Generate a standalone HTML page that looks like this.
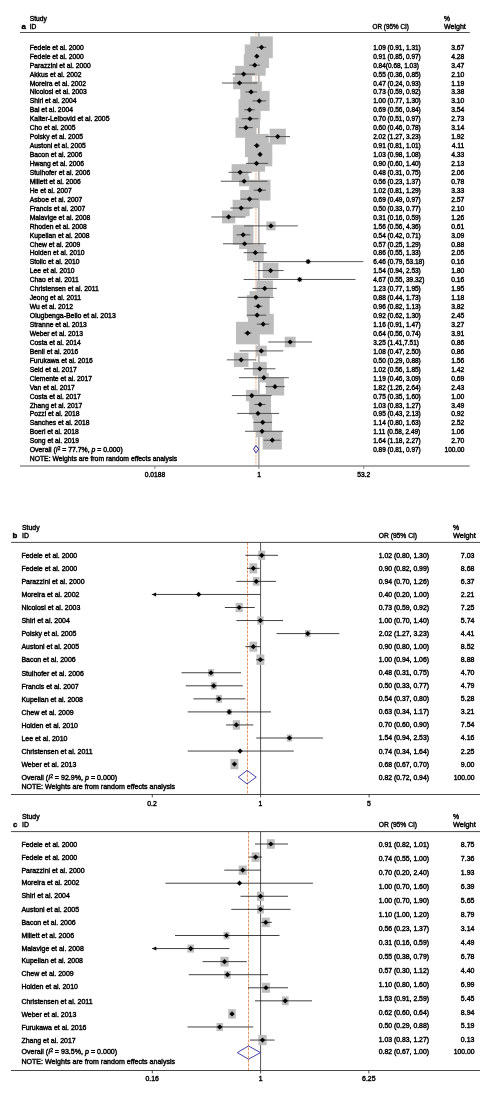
<!DOCTYPE html>
<html><head><meta charset="utf-8"><title>Forest plots</title>
<style>
html,body{margin:0;padding:0;background:#fff;}
body{width:496px;height:1110px;overflow:hidden;}
svg{display:block;will-change:transform;font-family:"Liberation Sans",sans-serif;fill:#000;}
text{stroke:#000;stroke-width:0.4px;}
</style></head><body>
<svg width="496" height="1110" viewBox="0 0 496 1110">
<line x1="258.90" y1="32.50" x2="258.90" y2="466.00" stroke="#8c8585" stroke-width="1.1"/>
<line x1="255.90" y1="32.50" x2="255.90" y2="466.00" stroke="#f5d6bf" stroke-width="1.9" stroke-dasharray="2.3 0.9"/>
<rect x="250.31" y="36.39" width="22.49" height="21.82" fill="#bdbdbd"/>
<rect x="244.69" y="44.45" width="24.29" height="23.56" fill="#bdbdbd"/>
<rect x="243.80" y="54.55" width="21.87" height="21.21" fill="#bdbdbd"/>
<rect x="235.14" y="65.84" width="17.01" height="16.50" fill="#bdbdbd"/>
<rect x="233.12" y="76.81" width="12.81" height="12.42" fill="#bdbdbd"/>
<rect x="240.27" y="81.48" width="21.58" height="20.94" fill="#bdbdbd"/>
<rect x="248.96" y="90.85" width="20.67" height="20.05" fill="#bdbdbd"/>
<rect x="238.54" y="99.10" width="22.09" height="21.43" fill="#bdbdbd"/>
<rect x="240.26" y="109.33" width="19.40" height="18.82" fill="#bdbdbd"/>
<rect x="235.52" y="117.58" width="20.80" height="20.18" fill="#bdbdbd"/>
<rect x="269.58" y="128.71" width="16.27" height="15.78" fill="#bdbdbd"/>
<rect x="244.93" y="133.99" width="23.80" height="23.09" fill="#bdbdbd"/>
<rect x="247.86" y="142.61" width="24.43" height="23.70" fill="#bdbdbd"/>
<rect x="247.97" y="155.08" width="17.13" height="16.62" fill="#bdbdbd"/>
<rect x="231.65" y="164.15" width="16.85" height="16.34" fill="#bdbdbd"/>
<rect x="238.93" y="176.22" width="10.37" height="10.06" fill="#bdbdbd"/>
<rect x="249.11" y="179.79" width="21.42" height="20.78" fill="#bdbdbd"/>
<rect x="240.17" y="189.98" width="18.82" height="18.26" fill="#bdbdbd"/>
<rect x="232.64" y="199.79" width="17.01" height="16.50" fill="#bdbdbd"/>
<rect x="222.04" y="210.58" width="13.18" height="12.78" fill="#bdbdbd"/>
<rect x="266.36" y="221.45" width="9.17" height="8.89" fill="#bdbdbd"/>
<rect x="232.84" y="224.82" width="20.64" height="20.02" fill="#bdbdbd"/>
<rect x="239.07" y="238.42" width="11.01" height="10.68" fill="#bdbdbd"/>
<rect x="246.95" y="244.54" width="16.81" height="16.30" fill="#bdbdbd"/>
<rect x="305.81" y="259.34" width="4.70" height="4.56" fill="#bdbdbd"/>
<rect x="262.73" y="262.91" width="15.75" height="15.28" fill="#bdbdbd"/>
<rect x="297.31" y="277.20" width="4.70" height="4.56" fill="#bdbdbd"/>
<rect x="256.52" y="280.46" width="16.39" height="15.90" fill="#bdbdbd"/>
<rect x="249.58" y="291.15" width="12.75" height="12.37" fill="#bdbdbd"/>
<rect x="246.76" y="295.14" width="22.95" height="22.26" fill="#bdbdbd"/>
<rect x="247.93" y="306.29" width="18.38" height="17.82" fill="#bdbdbd"/>
<rect x="252.57" y="313.83" width="21.23" height="20.59" fill="#bdbdbd"/>
<rect x="236.01" y="321.80" width="23.21" height="22.52" fill="#bdbdbd"/>
<rect x="284.72" y="336.71" width="10.89" height="10.56" fill="#bdbdbd"/>
<rect x="255.87" y="345.64" width="10.89" height="10.56" fill="#bdbdbd"/>
<rect x="233.82" y="352.74" width="14.66" height="14.22" fill="#bdbdbd"/>
<rect x="252.82" y="361.99" width="13.99" height="13.57" fill="#bdbdbd"/>
<rect x="258.98" y="372.98" width="9.75" height="9.46" fill="#bdbdbd"/>
<rect x="265.83" y="377.76" width="18.30" height="17.75" fill="#bdbdbd"/>
<rect x="245.90" y="389.88" width="11.74" height="11.39" fill="#bdbdbd"/>
<rect x="249.11" y="393.86" width="21.93" height="21.27" fill="#bdbdbd"/>
<rect x="252.33" y="407.97" width="11.26" height="10.92" fill="#bdbdbd"/>
<rect x="253.41" y="413.32" width="18.64" height="18.08" fill="#bdbdbd"/>
<rect x="255.99" y="425.43" width="12.09" height="11.72" fill="#bdbdbd"/>
<rect x="262.61" y="430.86" width="19.29" height="18.71" fill="#bdbdbd"/>
<line x1="256.83" y1="47.30" x2="266.37" y2="47.30" stroke="#444" stroke-width="0.9"/>
<path d="M258.96 47.30L261.56 44.70L264.16 47.30L261.56 49.90Z" fill="#000"/>
<line x1="255.04" y1="56.23" x2="258.50" y2="56.23" stroke="#444" stroke-width="0.9"/>
<path d="M254.23 56.23L256.83 53.63L259.43 56.23L256.83 58.83Z" fill="#000"/>
<line x1="249.20" y1="65.16" x2="260.07" y2="65.16" stroke="#444" stroke-width="0.9"/>
<path d="M252.13 65.16L254.73 62.56L257.33 65.16L254.73 67.76Z" fill="#000"/>
<line x1="232.55" y1="74.09" x2="255.04" y2="74.09" stroke="#444" stroke-width="0.9"/>
<path d="M241.04 74.09L243.64 71.49L246.24 74.09L243.64 76.69Z" fill="#000"/>
<line x1="221.93" y1="83.02" x2="257.40" y2="83.02" stroke="#444" stroke-width="0.9"/>
<path d="M236.93 83.02L239.53 80.42L242.13 83.02L239.53 85.62Z" fill="#000"/>
<line x1="245.48" y1="91.95" x2="257.12" y2="91.95" stroke="#444" stroke-width="0.9"/>
<path d="M248.46 91.95L251.06 89.35L253.66 91.95L251.06 94.55Z" fill="#000"/>
<line x1="252.46" y1="100.88" x2="266.17" y2="100.88" stroke="#444" stroke-width="0.9"/>
<path d="M256.70 100.88L259.30 98.28L261.90 100.88L259.30 103.48Z" fill="#000"/>
<line x1="244.12" y1="109.81" x2="254.73" y2="109.81" stroke="#444" stroke-width="0.9"/>
<path d="M246.98 109.81L249.58 107.21L252.18 109.81L249.58 112.41Z" fill="#000"/>
<line x1="241.67" y1="118.74" x2="258.50" y2="118.74" stroke="#444" stroke-width="0.9"/>
<path d="M247.36 118.74L249.96 116.14L252.56 118.74L249.96 121.34Z" fill="#000"/>
<line x1="238.96" y1="127.67" x2="252.79" y2="127.67" stroke="#444" stroke-width="0.9"/>
<path d="M243.32 127.67L245.92 125.07L248.52 127.67L245.92 130.27Z" fill="#000"/>
<line x1="265.56" y1="136.60" x2="290.00" y2="136.60" stroke="#444" stroke-width="0.9"/>
<path d="M275.11 136.60L277.71 134.00L280.31 136.60L277.71 139.20Z" fill="#000"/>
<line x1="253.78" y1="145.53" x2="259.56" y2="145.53" stroke="#444" stroke-width="0.9"/>
<path d="M254.23 145.53L256.83 142.93L259.43 145.53L256.83 148.13Z" fill="#000"/>
<line x1="258.77" y1="154.46" x2="261.32" y2="154.46" stroke="#444" stroke-width="0.9"/>
<path d="M257.47 154.46L260.07 151.86L262.67 154.46L260.07 157.06Z" fill="#000"/>
<line x1="245.92" y1="163.39" x2="268.11" y2="163.39" stroke="#444" stroke-width="0.9"/>
<path d="M253.94 163.39L256.54 160.79L259.14 163.39L256.54 165.99Z" fill="#000"/>
<line x1="228.63" y1="172.32" x2="251.77" y2="172.32" stroke="#444" stroke-width="0.9"/>
<path d="M237.48 172.32L240.08 169.72L242.68 172.32L240.08 174.92Z" fill="#000"/>
<line x1="220.81" y1="181.25" x2="267.54" y2="181.25" stroke="#444" stroke-width="0.9"/>
<path d="M241.52 181.25L244.12 178.65L246.72 181.25L244.12 183.85Z" fill="#000"/>
<line x1="253.78" y1="190.18" x2="265.97" y2="190.18" stroke="#444" stroke-width="0.9"/>
<path d="M257.22 190.18L259.82 187.58L262.42 190.18L259.82 192.78Z" fill="#000"/>
<line x1="240.62" y1="199.11" x2="258.50" y2="199.11" stroke="#444" stroke-width="0.9"/>
<path d="M246.98 199.11L249.58 196.51L252.18 199.11L249.58 201.71Z" fill="#000"/>
<line x1="230.27" y1="208.04" x2="252.46" y2="208.04" stroke="#444" stroke-width="0.9"/>
<path d="M238.55 208.04L241.15 205.44L243.75 208.04L241.15 210.64Z" fill="#000"/>
<line x1="211.31" y1="216.97" x2="245.48" y2="216.97" stroke="#444" stroke-width="0.9"/>
<path d="M226.03 216.97L228.63 214.37L231.23 216.97L228.63 219.57Z" fill="#000"/>
<line x1="244.12" y1="225.90" x2="297.86" y2="225.90" stroke="#444" stroke-width="0.9"/>
<path d="M268.35 225.90L270.95 223.30L273.55 225.90L270.95 228.50Z" fill="#000"/>
<line x1="236.58" y1="234.83" x2="250.33" y2="234.83" stroke="#444" stroke-width="0.9"/>
<path d="M240.56 234.83L243.16 232.23L245.76 234.83L243.16 237.43Z" fill="#000"/>
<line x1="223.00" y1="243.76" x2="265.97" y2="243.76" stroke="#444" stroke-width="0.9"/>
<path d="M241.98 243.76L244.58 241.16L247.18 243.76L244.58 246.36Z" fill="#000"/>
<line x1="243.64" y1="252.69" x2="266.77" y2="252.69" stroke="#444" stroke-width="0.9"/>
<path d="M252.75 252.69L255.35 250.09L257.95 252.69L255.35 255.29Z" fill="#000"/>
<line x1="253.13" y1="261.62" x2="363.36" y2="261.62" stroke="#444" stroke-width="0.9"/>
<path d="M305.56 261.62L308.16 259.02L310.76 261.62L308.16 264.22Z" fill="#000"/>
<line x1="257.68" y1="270.55" x2="283.61" y2="270.55" stroke="#444" stroke-width="0.9"/>
<path d="M268.01 270.55L270.61 267.95L273.21 270.55L270.61 273.15Z" fill="#000"/>
<line x1="243.64" y1="279.48" x2="355.46" y2="279.48" stroke="#444" stroke-width="0.9"/>
<path d="M297.06 279.48L299.66 276.88L302.26 279.48L299.66 282.08Z" fill="#000"/>
<line x1="252.46" y1="288.41" x2="276.79" y2="288.41" stroke="#444" stroke-width="0.9"/>
<path d="M262.12 288.41L264.72 285.81L267.32 288.41L264.72 291.01Z" fill="#000"/>
<line x1="237.80" y1="297.34" x2="273.65" y2="297.34" stroke="#444" stroke-width="0.9"/>
<path d="M253.35 297.34L255.95 294.74L258.55 297.34L255.95 299.94Z" fill="#000"/>
<line x1="254.10" y1="306.27" x2="262.50" y2="306.27" stroke="#444" stroke-width="0.9"/>
<path d="M255.63 306.27L258.23 303.67L260.83 306.27L258.23 308.87Z" fill="#000"/>
<line x1="246.78" y1="315.20" x2="266.17" y2="315.20" stroke="#444" stroke-width="0.9"/>
<path d="M254.52 315.20L257.12 312.60L259.72 315.20L257.12 317.80Z" fill="#000"/>
<line x1="256.83" y1="324.13" x2="269.39" y2="324.13" stroke="#444" stroke-width="0.9"/>
<path d="M260.59 324.13L263.19 321.53L265.79 324.13L263.19 326.73Z" fill="#000"/>
<line x1="244.12" y1="333.06" x2="251.41" y2="333.06" stroke="#444" stroke-width="0.9"/>
<path d="M245.01 333.06L247.61 330.46L250.21 333.06L247.61 335.66Z" fill="#000"/>
<line x1="268.30" y1="341.99" x2="312.10" y2="341.99" stroke="#444" stroke-width="0.9"/>
<path d="M287.57 341.99L290.17 339.39L292.77 341.99L290.17 344.59Z" fill="#000"/>
<line x1="239.53" y1="350.92" x2="283.30" y2="350.92" stroke="#444" stroke-width="0.9"/>
<path d="M258.72 350.92L261.32 348.32L263.92 350.92L261.32 353.52Z" fill="#000"/>
<line x1="226.88" y1="359.85" x2="255.95" y2="359.85" stroke="#444" stroke-width="0.9"/>
<path d="M238.55 359.85L241.15 357.25L243.75 359.85L241.15 362.45Z" fill="#000"/>
<line x1="244.12" y1="368.78" x2="275.41" y2="368.78" stroke="#444" stroke-width="0.9"/>
<path d="M257.22 368.78L259.82 366.18L262.42 368.78L259.82 371.38Z" fill="#000"/>
<line x1="238.96" y1="377.71" x2="288.84" y2="377.71" stroke="#444" stroke-width="0.9"/>
<path d="M261.26 377.71L263.86 375.11L266.46 377.71L263.86 380.31Z" fill="#000"/>
<line x1="265.35" y1="386.64" x2="284.72" y2="386.64" stroke="#444" stroke-width="0.9"/>
<path d="M272.38 386.64L274.98 384.04L277.58 386.64L274.98 389.24Z" fill="#000"/>
<line x1="231.81" y1="395.57" x2="271.61" y2="395.57" stroke="#444" stroke-width="0.9"/>
<path d="M249.17 395.57L251.77 392.97L254.37 395.57L251.77 398.17Z" fill="#000"/>
<line x1="254.42" y1="404.50" x2="265.56" y2="404.50" stroke="#444" stroke-width="0.9"/>
<path d="M257.47 404.50L260.07 401.90L262.67 404.50L260.07 407.10Z" fill="#000"/>
<line x1="237.20" y1="413.43" x2="279.10" y2="413.43" stroke="#444" stroke-width="0.9"/>
<path d="M255.36 413.43L257.96 410.83L260.56 413.43L257.96 416.03Z" fill="#000"/>
<line x1="253.46" y1="422.36" x2="272.09" y2="422.36" stroke="#444" stroke-width="0.9"/>
<path d="M260.13 422.36L262.73 419.76L265.33 422.36L262.73 424.96Z" fill="#000"/>
<line x1="245.03" y1="431.29" x2="283.19" y2="431.29" stroke="#444" stroke-width="0.9"/>
<path d="M259.43 431.29L262.03 428.69L264.63 431.29L262.03 433.89Z" fill="#000"/>
<line x1="263.63" y1="440.22" x2="280.77" y2="440.22" stroke="#444" stroke-width="0.9"/>
<path d="M269.66 440.22L272.26 437.62L274.86 440.22L272.26 442.82Z" fill="#000"/>
<path d="M253.58 449.15L255.90 445.45L258.70 449.15L255.90 452.85Z" fill="none" stroke="#2e2ea0" stroke-width="1.0"/>
<line x1="20.00" y1="32.50" x2="469.80" y2="32.50" stroke="#3a3a3a" stroke-width="0.9"/>
<line x1="20.00" y1="465.95" x2="469.70" y2="465.95" stroke="#8e8e8e" stroke-width="1.5"/>
<line x1="154.80" y1="466.00" x2="154.80" y2="468.80" stroke="#8a8585" stroke-width="1.1"/>
<line x1="258.90" y1="466.00" x2="258.90" y2="468.80" stroke="#8a8585" stroke-width="1.1"/>
<line x1="363.70" y1="466.00" x2="363.70" y2="468.80" stroke="#8a8585" stroke-width="1.1"/>
<text x="154.90" y="476.80" font-size="6.7" text-anchor="middle">0.0188</text>
<text x="259.00" y="476.80" font-size="6.7" text-anchor="middle">1</text>
<text x="363.70" y="476.80" font-size="6.7" text-anchor="middle">53.2</text>
<text x="29.75" y="21.20" font-size="6.7">Study</text>
<text x="29.75" y="28.60" font-size="6.7">ID</text>
<text x="21.40" y="28.60" font-size="7.9" font-weight="bold" stroke-width="0.35">a</text>
<text x="372.60" y="28.60" font-size="6.7" textLength="36.25" lengthAdjust="spacingAndGlyphs">OR (95% CI)</text>
<text x="444.00" y="21.20" font-size="6.7">%</text>
<text x="444.00" y="28.60" font-size="6.7" textLength="21.75" lengthAdjust="spacingAndGlyphs">Weight</text>
<text x="29.75" y="49.72" font-size="6.7" textLength="54.02" lengthAdjust="spacingAndGlyphs">Fedele et al. 2000</text>
<text x="373.20" y="49.72" font-size="6.7" textLength="47.59" lengthAdjust="spacingAndGlyphs">1.09 (0.91, 1.31)</text>
<text x="464.40" y="49.72" font-size="6.7" text-anchor="end" textLength="13.17" lengthAdjust="spacingAndGlyphs">3.67</text>
<text x="29.75" y="58.66" font-size="6.7" textLength="54.02" lengthAdjust="spacingAndGlyphs">Fedele et al. 2000</text>
<text x="373.20" y="58.66" font-size="6.7" textLength="47.59" lengthAdjust="spacingAndGlyphs">0.91 (0.85, 0.97)</text>
<text x="464.40" y="58.66" font-size="6.7" text-anchor="end" textLength="13.17" lengthAdjust="spacingAndGlyphs">4.28</text>
<text x="29.75" y="67.61" font-size="6.7" textLength="61.14" lengthAdjust="spacingAndGlyphs">Parazzini et al. 2000</text>
<text x="373.20" y="67.61" font-size="6.7" textLength="45.79" lengthAdjust="spacingAndGlyphs">0.84(0.68, 1.03)</text>
<text x="464.40" y="67.61" font-size="6.7" text-anchor="end" textLength="13.17" lengthAdjust="spacingAndGlyphs">3.47</text>
<text x="29.75" y="76.56" font-size="6.7" textLength="51.76" lengthAdjust="spacingAndGlyphs">Akkus et al. 2002</text>
<text x="373.20" y="76.56" font-size="6.7" textLength="47.59" lengthAdjust="spacingAndGlyphs">0.55 (0.36, 0.85)</text>
<text x="464.40" y="76.56" font-size="6.7" text-anchor="end" textLength="13.17" lengthAdjust="spacingAndGlyphs">2.10</text>
<text x="29.75" y="85.50" font-size="6.7" textLength="56.26" lengthAdjust="spacingAndGlyphs">Moreira et al. 2002</text>
<text x="373.20" y="85.50" font-size="6.7" textLength="47.59" lengthAdjust="spacingAndGlyphs">0.47 (0.24, 0.93)</text>
<text x="464.40" y="85.50" font-size="6.7" text-anchor="end" textLength="13.17" lengthAdjust="spacingAndGlyphs">1.19</text>
<text x="29.75" y="94.44" font-size="6.7" textLength="57.01" lengthAdjust="spacingAndGlyphs">Nicolosi et al. 2003</text>
<text x="373.20" y="94.44" font-size="6.7" textLength="47.59" lengthAdjust="spacingAndGlyphs">0.73 (0.59, 0.92)</text>
<text x="464.40" y="94.44" font-size="6.7" text-anchor="end" textLength="13.17" lengthAdjust="spacingAndGlyphs">3.38</text>
<text x="29.75" y="103.39" font-size="6.7" textLength="46.88" lengthAdjust="spacingAndGlyphs">Shiri et al. 2004</text>
<text x="373.20" y="103.39" font-size="6.7" textLength="47.59" lengthAdjust="spacingAndGlyphs">1.00 (0.77, 1.30)</text>
<text x="464.40" y="103.39" font-size="6.7" text-anchor="end" textLength="13.17" lengthAdjust="spacingAndGlyphs">3.10</text>
<text x="29.75" y="112.34" font-size="6.7" textLength="43.14" lengthAdjust="spacingAndGlyphs">Bai et al. 2004</text>
<text x="373.20" y="112.34" font-size="6.7" textLength="47.59" lengthAdjust="spacingAndGlyphs">0.69 (0.56, 0.84)</text>
<text x="464.40" y="112.34" font-size="6.7" text-anchor="end" textLength="13.17" lengthAdjust="spacingAndGlyphs">3.54</text>
<text x="29.75" y="121.28" font-size="6.7" textLength="79.75" lengthAdjust="spacingAndGlyphs">Kalter-Leibovid et al. 2005</text>
<text x="373.20" y="121.28" font-size="6.7" textLength="47.59" lengthAdjust="spacingAndGlyphs">0.70 (0.51, 0.97)</text>
<text x="464.40" y="121.28" font-size="6.7" text-anchor="end" textLength="13.17" lengthAdjust="spacingAndGlyphs">2.73</text>
<text x="29.75" y="130.22" font-size="6.7" textLength="45.76" lengthAdjust="spacingAndGlyphs">Cho et al. 2005</text>
<text x="373.20" y="130.22" font-size="6.7" textLength="47.59" lengthAdjust="spacingAndGlyphs">0.60 (0.46, 0.78)</text>
<text x="464.40" y="130.22" font-size="6.7" text-anchor="end" textLength="13.17" lengthAdjust="spacingAndGlyphs">3.14</text>
<text x="29.75" y="139.17" font-size="6.7" textLength="53.26" lengthAdjust="spacingAndGlyphs">Polsky et al. 2005</text>
<text x="373.20" y="139.17" font-size="6.7" textLength="47.59" lengthAdjust="spacingAndGlyphs">2.02 (1.27, 3.23)</text>
<text x="464.40" y="139.17" font-size="6.7" text-anchor="end" textLength="13.17" lengthAdjust="spacingAndGlyphs">1.92</text>
<text x="29.75" y="148.12" font-size="6.7" textLength="55.89" lengthAdjust="spacingAndGlyphs">Austoni et al. 2005</text>
<text x="373.20" y="148.12" font-size="6.7" textLength="47.59" lengthAdjust="spacingAndGlyphs">0.91 (0.81, 1.01)</text>
<text x="464.40" y="148.12" font-size="6.7" text-anchor="end" textLength="12.67" lengthAdjust="spacingAndGlyphs">4.11</text>
<text x="29.75" y="157.06" font-size="6.7" textLength="52.52" lengthAdjust="spacingAndGlyphs">Bacon et al. 2006</text>
<text x="373.20" y="157.06" font-size="6.7" textLength="47.59" lengthAdjust="spacingAndGlyphs">1.03 (0.98, 1.08)</text>
<text x="464.40" y="157.06" font-size="6.7" text-anchor="end" textLength="13.17" lengthAdjust="spacingAndGlyphs">4.33</text>
<text x="29.75" y="166.00" font-size="6.7" textLength="54.39" lengthAdjust="spacingAndGlyphs">Hwang et al. 2006</text>
<text x="373.20" y="166.00" font-size="6.7" textLength="47.59" lengthAdjust="spacingAndGlyphs">0.90 (0.60, 1.40)</text>
<text x="464.40" y="166.00" font-size="6.7" text-anchor="end" textLength="13.17" lengthAdjust="spacingAndGlyphs">2.13</text>
<text x="29.75" y="174.95" font-size="6.7" textLength="60.39" lengthAdjust="spacingAndGlyphs">Stulhofer et al. 2006</text>
<text x="373.20" y="174.95" font-size="6.7" textLength="47.59" lengthAdjust="spacingAndGlyphs">0.48 (0.31, 0.75)</text>
<text x="464.40" y="174.95" font-size="6.7" text-anchor="end" textLength="13.17" lengthAdjust="spacingAndGlyphs">2.06</text>
<text x="29.75" y="183.90" font-size="6.7" textLength="51.00" lengthAdjust="spacingAndGlyphs">Millett et al. 2006</text>
<text x="373.20" y="183.90" font-size="6.7" textLength="47.59" lengthAdjust="spacingAndGlyphs">0.56 (0.23, 1.37)</text>
<text x="464.40" y="183.90" font-size="6.7" text-anchor="end" textLength="13.17" lengthAdjust="spacingAndGlyphs">0.78</text>
<text x="29.75" y="192.84" font-size="6.7" textLength="42.01" lengthAdjust="spacingAndGlyphs">He et al. 2007</text>
<text x="373.20" y="192.84" font-size="6.7" textLength="47.59" lengthAdjust="spacingAndGlyphs">1.02 (0.81, 1.29)</text>
<text x="464.40" y="192.84" font-size="6.7" text-anchor="end" textLength="13.17" lengthAdjust="spacingAndGlyphs">3.33</text>
<text x="29.75" y="201.78" font-size="6.7" textLength="52.52" lengthAdjust="spacingAndGlyphs">Asboe et al. 2007</text>
<text x="373.20" y="201.78" font-size="6.7" textLength="47.59" lengthAdjust="spacingAndGlyphs">0.69 (0.49, 0.97)</text>
<text x="464.40" y="201.78" font-size="6.7" text-anchor="end" textLength="13.17" lengthAdjust="spacingAndGlyphs">2.57</text>
<text x="29.75" y="210.73" font-size="6.7" textLength="55.50" lengthAdjust="spacingAndGlyphs">Francis et al. 2007</text>
<text x="373.20" y="210.73" font-size="6.7" textLength="47.59" lengthAdjust="spacingAndGlyphs">0.50 (0.33, 0.77)</text>
<text x="464.40" y="210.73" font-size="6.7" text-anchor="end" textLength="13.17" lengthAdjust="spacingAndGlyphs">2.10</text>
<text x="29.75" y="219.68" font-size="6.7" textLength="60.39" lengthAdjust="spacingAndGlyphs">Malavige et al. 2008</text>
<text x="373.20" y="219.68" font-size="6.7" textLength="47.59" lengthAdjust="spacingAndGlyphs">0.31 (0.16, 0.59)</text>
<text x="464.40" y="219.68" font-size="6.7" text-anchor="end" textLength="13.17" lengthAdjust="spacingAndGlyphs">1.26</text>
<text x="29.75" y="228.62" font-size="6.7" textLength="57.02" lengthAdjust="spacingAndGlyphs">Rhoden et al. 2008</text>
<text x="373.20" y="228.62" font-size="6.7" textLength="47.59" lengthAdjust="spacingAndGlyphs">1.56 (0.56, 4.36)</text>
<text x="464.40" y="228.62" font-size="6.7" text-anchor="end" textLength="13.17" lengthAdjust="spacingAndGlyphs">0.61</text>
<text x="29.75" y="237.56" font-size="6.7" textLength="59.65" lengthAdjust="spacingAndGlyphs">Kupelian et al. 2008</text>
<text x="373.20" y="237.56" font-size="6.7" textLength="47.59" lengthAdjust="spacingAndGlyphs">0.54 (0.42, 0.71)</text>
<text x="464.40" y="237.56" font-size="6.7" text-anchor="end" textLength="13.17" lengthAdjust="spacingAndGlyphs">3.09</text>
<text x="29.75" y="246.51" font-size="6.7" textLength="50.64" lengthAdjust="spacingAndGlyphs">Chew et al. 2009</text>
<text x="373.20" y="246.51" font-size="6.7" textLength="47.59" lengthAdjust="spacingAndGlyphs">0.57 (0.25, 1.29)</text>
<text x="464.40" y="246.51" font-size="6.7" text-anchor="end" textLength="13.17" lengthAdjust="spacingAndGlyphs">0.88</text>
<text x="29.75" y="255.46" font-size="6.7" textLength="54.77" lengthAdjust="spacingAndGlyphs">Holden et al. 2010</text>
<text x="373.20" y="255.46" font-size="6.7" textLength="47.59" lengthAdjust="spacingAndGlyphs">0.86 (0.55, 1.33)</text>
<text x="464.40" y="255.46" font-size="6.7" text-anchor="end" textLength="13.17" lengthAdjust="spacingAndGlyphs">2.05</text>
<text x="29.75" y="264.40" font-size="6.7" textLength="49.88" lengthAdjust="spacingAndGlyphs">Stolic et al. 2010</text>
<text x="373.20" y="264.40" font-size="6.7" textLength="51.20" lengthAdjust="spacingAndGlyphs">6.46 (0.79, 53.18)</text>
<text x="464.40" y="264.40" font-size="6.7" text-anchor="end" textLength="13.17" lengthAdjust="spacingAndGlyphs">0.16</text>
<text x="29.75" y="273.35" font-size="6.7" textLength="44.64" lengthAdjust="spacingAndGlyphs">Lee et al. 2010</text>
<text x="373.20" y="273.35" font-size="6.7" textLength="47.59" lengthAdjust="spacingAndGlyphs">1.54 (0.94, 2.53)</text>
<text x="464.40" y="273.35" font-size="6.7" text-anchor="end" textLength="13.17" lengthAdjust="spacingAndGlyphs">1.80</text>
<text x="29.75" y="282.29" font-size="6.7" textLength="49.01" lengthAdjust="spacingAndGlyphs">Chao et al. 2011</text>
<text x="373.20" y="282.29" font-size="6.7" textLength="51.20" lengthAdjust="spacingAndGlyphs">4.67 (0.55, 39.32)</text>
<text x="464.40" y="282.29" font-size="6.7" text-anchor="end" textLength="13.17" lengthAdjust="spacingAndGlyphs">0.16</text>
<text x="29.75" y="291.24" font-size="6.7" textLength="69.00" lengthAdjust="spacingAndGlyphs">Christensen et al. 2011</text>
<text x="373.20" y="291.24" font-size="6.7" textLength="47.59" lengthAdjust="spacingAndGlyphs">1.23 (0.77, 1.95)</text>
<text x="464.40" y="291.24" font-size="6.7" text-anchor="end" textLength="13.17" lengthAdjust="spacingAndGlyphs">1.95</text>
<text x="29.75" y="300.18" font-size="6.7" textLength="51.27" lengthAdjust="spacingAndGlyphs">Jeong et al. 2011</text>
<text x="373.20" y="300.18" font-size="6.7" textLength="47.59" lengthAdjust="spacingAndGlyphs">0.88 (0.44, 1.73)</text>
<text x="464.40" y="300.18" font-size="6.7" text-anchor="end" textLength="13.17" lengthAdjust="spacingAndGlyphs">1.18</text>
<text x="29.75" y="309.12" font-size="6.7" textLength="43.38" lengthAdjust="spacingAndGlyphs">Wu et al. 2012</text>
<text x="373.20" y="309.12" font-size="6.7" textLength="47.59" lengthAdjust="spacingAndGlyphs">0.96 (0.82, 1.13)</text>
<text x="464.40" y="309.12" font-size="6.7" text-anchor="end" textLength="13.17" lengthAdjust="spacingAndGlyphs">3.82</text>
<text x="29.75" y="318.07" font-size="6.7" textLength="86.00" lengthAdjust="spacingAndGlyphs">Olugbenga-Bello et al. 2013</text>
<text x="373.20" y="318.07" font-size="6.7" textLength="47.59" lengthAdjust="spacingAndGlyphs">0.92 (0.62, 1.30)</text>
<text x="464.40" y="318.07" font-size="6.7" text-anchor="end" textLength="13.17" lengthAdjust="spacingAndGlyphs">2.45</text>
<text x="29.75" y="327.01" font-size="6.7" textLength="57.02" lengthAdjust="spacingAndGlyphs">Stranne et al. 2013</text>
<text x="373.20" y="327.01" font-size="6.7" textLength="47.59" lengthAdjust="spacingAndGlyphs">1.16 (0.91, 1.47)</text>
<text x="464.40" y="327.01" font-size="6.7" text-anchor="end" textLength="13.17" lengthAdjust="spacingAndGlyphs">3.27</text>
<text x="29.75" y="335.96" font-size="6.7" textLength="53.14" lengthAdjust="spacingAndGlyphs">Weber et al. 2013</text>
<text x="373.20" y="335.96" font-size="6.7" textLength="47.59" lengthAdjust="spacingAndGlyphs">0.64 (0.56, 0.74)</text>
<text x="464.40" y="335.96" font-size="6.7" text-anchor="end" textLength="13.17" lengthAdjust="spacingAndGlyphs">3.91</text>
<text x="29.75" y="344.90" font-size="6.7" textLength="51.01" lengthAdjust="spacingAndGlyphs">Costa et al. 2014</text>
<text x="373.20" y="344.90" font-size="6.7" textLength="45.79" lengthAdjust="spacingAndGlyphs">3.25 (1.41,7.51)</text>
<text x="464.40" y="344.90" font-size="6.7" text-anchor="end" textLength="13.17" lengthAdjust="spacingAndGlyphs">0.86</text>
<text x="29.75" y="353.85" font-size="6.7" textLength="48.39" lengthAdjust="spacingAndGlyphs">Benli et al. 2016</text>
<text x="373.20" y="353.85" font-size="6.7" textLength="47.59" lengthAdjust="spacingAndGlyphs">1.08 (0.47, 2.50)</text>
<text x="464.40" y="353.85" font-size="6.7" text-anchor="end" textLength="13.17" lengthAdjust="spacingAndGlyphs">0.86</text>
<text x="29.75" y="362.79" font-size="6.7" textLength="63.01" lengthAdjust="spacingAndGlyphs">Furukawa et al. 2016</text>
<text x="373.20" y="362.79" font-size="6.7" textLength="47.59" lengthAdjust="spacingAndGlyphs">0.50 (0.29, 0.88)</text>
<text x="464.40" y="362.79" font-size="6.7" text-anchor="end" textLength="13.17" lengthAdjust="spacingAndGlyphs">1.56</text>
<text x="29.75" y="371.74" font-size="6.7" textLength="46.89" lengthAdjust="spacingAndGlyphs">Seid et al. 2017</text>
<text x="373.20" y="371.74" font-size="6.7" textLength="47.59" lengthAdjust="spacingAndGlyphs">1.02 (0.56, 1.85)</text>
<text x="464.40" y="371.74" font-size="6.7" text-anchor="end" textLength="13.17" lengthAdjust="spacingAndGlyphs">1.42</text>
<text x="29.75" y="380.69" font-size="6.7" textLength="62.26" lengthAdjust="spacingAndGlyphs">Clemente et al. 2017</text>
<text x="373.20" y="380.69" font-size="6.7" textLength="47.59" lengthAdjust="spacingAndGlyphs">1.19 (0.46, 3.09)</text>
<text x="464.40" y="380.69" font-size="6.7" text-anchor="end" textLength="13.17" lengthAdjust="spacingAndGlyphs">0.69</text>
<text x="29.75" y="389.63" font-size="6.7" textLength="44.89" lengthAdjust="spacingAndGlyphs">Van et al. 2017</text>
<text x="373.20" y="389.63" font-size="6.7" textLength="47.59" lengthAdjust="spacingAndGlyphs">1.82 (1.26, 2.64)</text>
<text x="464.40" y="389.63" font-size="6.7" text-anchor="end" textLength="13.17" lengthAdjust="spacingAndGlyphs">2.43</text>
<text x="29.75" y="398.58" font-size="6.7" textLength="51.01" lengthAdjust="spacingAndGlyphs">Costa et al. 2017</text>
<text x="373.20" y="398.58" font-size="6.7" textLength="47.59" lengthAdjust="spacingAndGlyphs">0.75 (0.35, 1.60)</text>
<text x="464.40" y="398.58" font-size="6.7" text-anchor="end" textLength="13.17" lengthAdjust="spacingAndGlyphs">1.00</text>
<text x="29.75" y="407.52" font-size="6.7" textLength="52.52" lengthAdjust="spacingAndGlyphs">Zhang et al. 2017</text>
<text x="373.20" y="407.52" font-size="6.7" textLength="47.59" lengthAdjust="spacingAndGlyphs">1.03 (0.83, 1.27)</text>
<text x="464.40" y="407.52" font-size="6.7" text-anchor="end" textLength="13.17" lengthAdjust="spacingAndGlyphs">3.49</text>
<text x="29.75" y="416.47" font-size="6.7" textLength="49.88" lengthAdjust="spacingAndGlyphs">Pozzi et al. 2018</text>
<text x="373.20" y="416.47" font-size="6.7" textLength="47.59" lengthAdjust="spacingAndGlyphs">0.95 (0.43, 2.13)</text>
<text x="464.40" y="416.47" font-size="6.7" text-anchor="end" textLength="13.17" lengthAdjust="spacingAndGlyphs">0.92</text>
<text x="29.75" y="425.41" font-size="6.7" textLength="59.64" lengthAdjust="spacingAndGlyphs">Sanches et al. 2018</text>
<text x="373.20" y="425.41" font-size="6.7" textLength="47.59" lengthAdjust="spacingAndGlyphs">1.14 (0.80, 1.63)</text>
<text x="464.40" y="425.41" font-size="6.7" text-anchor="end" textLength="13.17" lengthAdjust="spacingAndGlyphs">2.52</text>
<text x="29.75" y="434.36" font-size="6.7" textLength="49.14" lengthAdjust="spacingAndGlyphs">Boeri et al. 2018</text>
<text x="373.20" y="434.36" font-size="6.7" textLength="47.11" lengthAdjust="spacingAndGlyphs">1.11 (0.58, 2.49)</text>
<text x="464.40" y="434.36" font-size="6.7" text-anchor="end" textLength="13.17" lengthAdjust="spacingAndGlyphs">1.06</text>
<text x="29.75" y="443.30" font-size="6.7" textLength="49.14" lengthAdjust="spacingAndGlyphs">Song et al. 2019</text>
<text x="373.20" y="443.30" font-size="6.7" textLength="47.59" lengthAdjust="spacingAndGlyphs">1.64 (1.18, 2.27)</text>
<text x="464.40" y="443.30" font-size="6.7" text-anchor="end" textLength="13.17" lengthAdjust="spacingAndGlyphs">2.70</text>
<text x="29.75" y="452.25" font-size="6.7" textLength="93.00" lengthAdjust="spacingAndGlyphs">Overall (<tspan font-style="italic">I</tspan><tspan font-size="70%" dy="-2">2</tspan><tspan dy="2"> = 77.7%, </tspan><tspan font-style="italic">p</tspan> = 0.000)</text>
<text x="373.20" y="452.25" font-size="6.7" textLength="47.59" lengthAdjust="spacingAndGlyphs">0.89 (0.81, 0.97)</text>
<text x="464.40" y="452.25" font-size="6.7" text-anchor="end" textLength="19.88" lengthAdjust="spacingAndGlyphs">100.00</text>
<text x="29.75" y="461.00" font-size="6.7" textLength="147.50" lengthAdjust="spacingAndGlyphs">NOTE: Weights are from random effects analysis</text>
<line x1="260.60" y1="542.40" x2="260.60" y2="794.50" stroke="#2a2a2a" stroke-width="0.8"/>
<line x1="247.50" y1="542.40" x2="247.50" y2="794.50" stroke="#e08a50" stroke-width="0.9" stroke-dasharray="2.8 1.2"/>
<rect x="258.22" y="550.73" width="7.03" height="9.13" fill="#bdbdbd"/>
<rect x="249.40" y="563.28" width="7.81" height="10.15" fill="#bdbdbd"/>
<rect x="252.89" y="577.05" width="6.69" height="8.69" fill="#bdbdbd"/>
<rect x="235.63" y="602.86" width="7.14" height="9.28" fill="#bdbdbd"/>
<rect x="257.23" y="616.42" width="6.35" height="8.25" fill="#bdbdbd"/>
<rect x="304.98" y="629.98" width="5.57" height="7.23" fill="#bdbdbd"/>
<rect x="249.44" y="641.62" width="7.74" height="10.06" fill="#bdbdbd"/>
<rect x="256.45" y="654.57" width="7.90" height="10.27" fill="#bdbdbd"/>
<rect x="208.09" y="669.02" width="5.75" height="7.47" fill="#bdbdbd"/>
<rect x="210.81" y="682.03" width="5.80" height="7.54" fill="#bdbdbd"/>
<rect x="215.85" y="694.89" width="6.09" height="7.92" fill="#bdbdbd"/>
<rect x="226.90" y="708.81" width="4.75" height="6.17" fill="#bdbdbd"/>
<rect x="232.74" y="720.22" width="7.28" height="9.46" fill="#bdbdbd"/>
<rect x="286.78" y="734.49" width="5.40" height="7.03" fill="#bdbdbd"/>
<rect x="230.45" y="758.93" width="7.95" height="10.33" fill="#bdbdbd"/>
<line x1="245.37" y1="555.30" x2="278.07" y2="555.30" stroke="#111" stroke-width="0.8"/>
<path d="M259.13 555.30L261.73 552.70L264.33 555.30L261.73 557.90Z" fill="#000"/>
<line x1="247.03" y1="568.35" x2="259.72" y2="568.35" stroke="#111" stroke-width="0.8"/>
<path d="M250.70 568.35L253.30 565.75L255.90 568.35L253.30 570.95Z" fill="#000"/>
<line x1="236.37" y1="581.40" x2="275.97" y2="581.40" stroke="#111" stroke-width="0.8"/>
<path d="M253.63 581.40L256.23 578.80L258.83 581.40L256.23 584.00Z" fill="#000"/>
<path d="M151.80 594.45L156.10 592.45L156.10 596.45Z" fill="#000"/>
<line x1="151.80" y1="594.45" x2="260.40" y2="594.45" stroke="#111" stroke-width="0.8"/>
<path d="M196.08 594.45L198.68 591.85L201.28 594.45L198.68 597.05Z" fill="#000"/>
<line x1="224.86" y1="607.50" x2="254.78" y2="607.50" stroke="#111" stroke-width="0.8"/>
<path d="M236.60 607.50L239.20 604.90L241.80 607.50L239.20 610.10Z" fill="#000"/>
<line x1="236.37" y1="620.55" x2="283.06" y2="620.55" stroke="#111" stroke-width="0.8"/>
<path d="M257.80 620.55L260.40 617.95L263.00 620.55L260.40 623.15Z" fill="#000"/>
<line x1="276.50" y1="633.60" x2="339.38" y2="633.60" stroke="#111" stroke-width="0.8"/>
<path d="M305.16 633.60L307.76 631.00L310.36 633.60L307.76 636.20Z" fill="#000"/>
<line x1="245.37" y1="646.65" x2="260.40" y2="646.65" stroke="#111" stroke-width="0.8"/>
<path d="M250.70 646.65L253.30 644.05L255.90 646.65L253.30 649.25Z" fill="#000"/>
<line x1="256.23" y1="659.70" x2="264.32" y2="659.70" stroke="#111" stroke-width="0.8"/>
<path d="M257.80 659.70L260.40 657.10L263.00 659.70L260.40 662.30Z" fill="#000"/>
<line x1="181.51" y1="672.75" x2="241.02" y2="672.75" stroke="#111" stroke-width="0.8"/>
<path d="M208.36 672.75L210.96 670.15L213.56 672.75L210.96 675.35Z" fill="#000"/>
<line x1="185.72" y1="685.80" x2="242.79" y2="685.80" stroke="#111" stroke-width="0.8"/>
<path d="M211.11 685.80L213.71 683.20L216.31 685.80L213.71 688.40Z" fill="#000"/>
<line x1="193.43" y1="698.85" x2="245.37" y2="698.85" stroke="#111" stroke-width="0.8"/>
<path d="M216.29 698.85L218.89 696.25L221.49 698.85L218.89 701.45Z" fill="#000"/>
<line x1="187.73" y1="711.90" x2="270.98" y2="711.90" stroke="#111" stroke-width="0.8"/>
<path d="M226.68 711.90L229.28 709.30L231.88 711.90L229.28 714.50Z" fill="#000"/>
<line x1="225.99" y1="724.95" x2="253.30" y2="724.95" stroke="#111" stroke-width="0.8"/>
<path d="M233.77 724.95L236.37 722.35L238.97 724.95L236.37 727.55Z" fill="#000"/>
<line x1="256.23" y1="738.00" x2="322.92" y2="738.00" stroke="#111" stroke-width="0.8"/>
<path d="M286.88 738.00L289.48 735.40L292.08 738.00L289.48 740.60Z" fill="#000"/>
<line x1="187.73" y1="751.05" x2="293.72" y2="751.05" stroke="#111" stroke-width="0.8"/>
<path d="M237.52 751.05L240.12 748.45L242.72 751.05L240.12 753.65Z" fill="#000"/>
<line x1="233.42" y1="764.10" x2="236.37" y2="764.10" stroke="#111" stroke-width="0.8"/>
<path d="M231.82 764.10L234.42 761.50L237.02 764.10L234.42 766.70Z" fill="#000"/>
<path d="M238.27 777.15L247.03 770.45L256.23 777.15L247.03 783.85Z" fill="none" stroke="#2e2ea0" stroke-width="0.9"/>
<line x1="11.00" y1="542.40" x2="480.00" y2="542.40" stroke="#333" stroke-width="0.9"/>
<line x1="11.00" y1="794.50" x2="480.00" y2="794.50" stroke="#333" stroke-width="0.9"/>
<line x1="152.29" y1="794.50" x2="152.29" y2="797.40" stroke="#222" stroke-width="0.8"/>
<line x1="260.60" y1="794.50" x2="260.60" y2="797.40" stroke="#222" stroke-width="0.8"/>
<line x1="369.11" y1="794.50" x2="369.11" y2="797.40" stroke="#222" stroke-width="0.8"/>
<text x="151.99" y="806.00" font-size="6.9" text-anchor="middle">0.2</text>
<text x="260.40" y="806.00" font-size="6.9" text-anchor="middle">1</text>
<text x="368.81" y="806.00" font-size="6.9" text-anchor="middle">5</text>
<text x="22.00" y="530.00" font-size="6.9">Study</text>
<text x="22.00" y="537.60" font-size="6.9">ID</text>
<text x="12.40" y="537.60" font-size="7.9" font-weight="bold" stroke-width="0.35">b</text>
<text x="378.80" y="537.60" font-size="6.9" textLength="38.25" lengthAdjust="spacingAndGlyphs">OR (95% CI)</text>
<text x="453.00" y="530.00" font-size="6.9">%</text>
<text x="453.00" y="537.60" font-size="6.9" textLength="22.75" lengthAdjust="spacingAndGlyphs">Weight</text>
<text x="21.40" y="557.75" font-size="6.9" textLength="55.79" lengthAdjust="spacingAndGlyphs">Fedele et al. 2000</text>
<text x="378.80" y="557.75" font-size="6.9" textLength="50.23" lengthAdjust="spacingAndGlyphs">1.02 (0.80, 1.30)</text>
<text x="474.40" y="557.75" font-size="6.9" text-anchor="end" textLength="13.56" lengthAdjust="spacingAndGlyphs">7.03</text>
<text x="21.40" y="570.75" font-size="6.9" textLength="55.79" lengthAdjust="spacingAndGlyphs">Fedele et al. 2000</text>
<text x="378.80" y="570.80" font-size="6.9" textLength="50.23" lengthAdjust="spacingAndGlyphs">0.90 (0.82, 0.99)</text>
<text x="474.40" y="570.80" font-size="6.9" text-anchor="end" textLength="13.56" lengthAdjust="spacingAndGlyphs">8.68</text>
<text x="21.40" y="583.75" font-size="6.9" textLength="63.15" lengthAdjust="spacingAndGlyphs">Parazzini et al. 2000</text>
<text x="378.80" y="583.85" font-size="6.9" textLength="50.23" lengthAdjust="spacingAndGlyphs">0.94 (0.70, 1.26)</text>
<text x="474.40" y="583.85" font-size="6.9" text-anchor="end" textLength="13.56" lengthAdjust="spacingAndGlyphs">6.37</text>
<text x="21.40" y="596.75" font-size="6.9" textLength="58.11" lengthAdjust="spacingAndGlyphs">Moreira et al. 2002</text>
<text x="378.80" y="596.90" font-size="6.9" textLength="50.23" lengthAdjust="spacingAndGlyphs">0.40 (0.20, 1.00)</text>
<text x="474.40" y="596.90" font-size="6.9" text-anchor="end" textLength="13.56" lengthAdjust="spacingAndGlyphs">2.21</text>
<text x="21.40" y="609.75" font-size="6.9" textLength="58.88" lengthAdjust="spacingAndGlyphs">Nicolosi et al. 2003</text>
<text x="378.80" y="609.95" font-size="6.9" textLength="50.23" lengthAdjust="spacingAndGlyphs">0.73 (0.59, 0.92)</text>
<text x="474.40" y="609.95" font-size="6.9" text-anchor="end" textLength="13.56" lengthAdjust="spacingAndGlyphs">7.25</text>
<text x="21.40" y="622.75" font-size="6.9" textLength="48.43" lengthAdjust="spacingAndGlyphs">Shiri et al. 2004</text>
<text x="378.80" y="623.00" font-size="6.9" textLength="50.23" lengthAdjust="spacingAndGlyphs">1.00 (0.70, 1.40)</text>
<text x="474.40" y="623.00" font-size="6.9" text-anchor="end" textLength="13.56" lengthAdjust="spacingAndGlyphs">5.74</text>
<text x="21.40" y="635.75" font-size="6.9" textLength="55.01" lengthAdjust="spacingAndGlyphs">Polsky et al. 2005</text>
<text x="378.80" y="636.05" font-size="6.9" textLength="50.23" lengthAdjust="spacingAndGlyphs">2.02 (1.27, 3.23)</text>
<text x="474.40" y="636.05" font-size="6.9" text-anchor="end" textLength="13.56" lengthAdjust="spacingAndGlyphs">4.41</text>
<text x="21.40" y="648.75" font-size="6.9" textLength="57.73" lengthAdjust="spacingAndGlyphs">Austoni et al. 2005</text>
<text x="378.80" y="649.10" font-size="6.9" textLength="50.23" lengthAdjust="spacingAndGlyphs">0.90 (0.80, 1.00)</text>
<text x="474.40" y="649.10" font-size="6.9" text-anchor="end" textLength="13.56" lengthAdjust="spacingAndGlyphs">8.52</text>
<text x="21.40" y="661.75" font-size="6.9" textLength="54.25" lengthAdjust="spacingAndGlyphs">Bacon et al. 2006</text>
<text x="378.80" y="662.15" font-size="6.9" textLength="50.23" lengthAdjust="spacingAndGlyphs">1.00 (0.94, 1.06)</text>
<text x="474.40" y="662.15" font-size="6.9" text-anchor="end" textLength="13.56" lengthAdjust="spacingAndGlyphs">8.88</text>
<text x="21.40" y="676.20" font-size="6.9" textLength="62.38" lengthAdjust="spacingAndGlyphs">Stulhofer et al. 2006</text>
<text x="378.80" y="675.20" font-size="6.9" textLength="50.23" lengthAdjust="spacingAndGlyphs">0.48 (0.31, 0.75)</text>
<text x="474.40" y="675.20" font-size="6.9" text-anchor="end" textLength="13.56" lengthAdjust="spacingAndGlyphs">4.70</text>
<text x="21.40" y="689.10" font-size="6.9" textLength="57.33" lengthAdjust="spacingAndGlyphs">Francis et al. 2007</text>
<text x="378.80" y="688.25" font-size="6.9" textLength="50.23" lengthAdjust="spacingAndGlyphs">0.50 (0.33, 0.77)</text>
<text x="474.40" y="688.25" font-size="6.9" text-anchor="end" textLength="13.56" lengthAdjust="spacingAndGlyphs">4.79</text>
<text x="21.40" y="702.00" font-size="6.9" textLength="61.61" lengthAdjust="spacingAndGlyphs">Kupelian et al. 2008</text>
<text x="378.80" y="701.30" font-size="6.9" textLength="50.23" lengthAdjust="spacingAndGlyphs">0.54 (0.37, 0.80)</text>
<text x="474.40" y="701.30" font-size="6.9" text-anchor="end" textLength="13.56" lengthAdjust="spacingAndGlyphs">5.28</text>
<text x="21.40" y="714.90" font-size="6.9" textLength="52.30" lengthAdjust="spacingAndGlyphs">Chew et al. 2009</text>
<text x="378.80" y="714.35" font-size="6.9" textLength="50.23" lengthAdjust="spacingAndGlyphs">0.63 (0.34, 1.17)</text>
<text x="474.40" y="714.35" font-size="6.9" text-anchor="end" textLength="13.56" lengthAdjust="spacingAndGlyphs">3.21</text>
<text x="21.40" y="727.80" font-size="6.9" textLength="56.57" lengthAdjust="spacingAndGlyphs">Holden et al. 2010</text>
<text x="378.80" y="727.40" font-size="6.9" textLength="50.23" lengthAdjust="spacingAndGlyphs">0.70 (0.60, 0.90)</text>
<text x="474.40" y="727.40" font-size="6.9" text-anchor="end" textLength="13.56" lengthAdjust="spacingAndGlyphs">7.54</text>
<text x="21.40" y="740.70" font-size="6.9" textLength="46.11" lengthAdjust="spacingAndGlyphs">Lee et al. 2010</text>
<text x="378.80" y="740.45" font-size="6.9" textLength="50.23" lengthAdjust="spacingAndGlyphs">1.54 (0.94, 2.53)</text>
<text x="474.40" y="740.45" font-size="6.9" text-anchor="end" textLength="13.56" lengthAdjust="spacingAndGlyphs">4.16</text>
<text x="21.40" y="753.60" font-size="6.9" textLength="71.15" lengthAdjust="spacingAndGlyphs">Christensen et al. 2011</text>
<text x="378.80" y="753.50" font-size="6.9" textLength="50.23" lengthAdjust="spacingAndGlyphs">0.74 (0.34, 1.64)</text>
<text x="474.40" y="753.50" font-size="6.9" text-anchor="end" textLength="13.56" lengthAdjust="spacingAndGlyphs">2.25</text>
<text x="21.40" y="766.50" font-size="6.9" textLength="54.89" lengthAdjust="spacingAndGlyphs">Weber et al. 2013</text>
<text x="378.80" y="766.55" font-size="6.9" textLength="50.23" lengthAdjust="spacingAndGlyphs">0.68 (0.67, 0.70)</text>
<text x="474.40" y="766.55" font-size="6.9" text-anchor="end" textLength="13.56" lengthAdjust="spacingAndGlyphs">9.00</text>
<text x="21.40" y="779.60" font-size="6.9" textLength="95.75" lengthAdjust="spacingAndGlyphs">Overall (<tspan font-style="italic">I</tspan><tspan font-size="70%" dy="-2">2</tspan><tspan dy="2"> = 92.9%, </tspan><tspan font-style="italic">p</tspan> = 0.000)</text>
<text x="378.80" y="779.60" font-size="6.9" textLength="50.23" lengthAdjust="spacingAndGlyphs">0.82 (0.72, 0.94)</text>
<text x="474.40" y="779.60" font-size="6.9" text-anchor="end" textLength="20.68" lengthAdjust="spacingAndGlyphs">100.00</text>
<text x="21.40" y="789.30" font-size="6.9" textLength="153.75" lengthAdjust="spacingAndGlyphs">NOTE: Weights are from random effects analysis</text>
<line x1="260.60" y1="831.60" x2="260.60" y2="1070.50" stroke="#2a2a2a" stroke-width="0.8"/>
<line x1="248.50" y1="831.60" x2="248.50" y2="1070.50" stroke="#e08a50" stroke-width="0.9" stroke-dasharray="2.8 1.2"/>
<rect x="266.80" y="839.20" width="8.00" height="9.60" fill="#bdbdbd"/>
<rect x="251.65" y="852.32" width="7.90" height="9.50" fill="#bdbdbd"/>
<rect x="238.75" y="865.51" width="8.00" height="9.25" fill="#bdbdbd"/>
<rect x="256.88" y="891.65" width="7.25" height="9.25" fill="#bdbdbd"/>
<rect x="257.00" y="905.23" width="7.00" height="8.25" fill="#bdbdbd"/>
<rect x="261.75" y="917.67" width="8.00" height="9.50" fill="#bdbdbd"/>
<rect x="223.50" y="931.74" width="6.00" height="7.50" fill="#bdbdbd"/>
<rect x="187.38" y="944.56" width="6.75" height="8.00" fill="#bdbdbd"/>
<rect x="220.38" y="956.75" width="8.25" height="9.75" fill="#bdbdbd"/>
<rect x="224.25" y="970.83" width="6.50" height="7.75" fill="#bdbdbd"/>
<rect x="262.00" y="982.77" width="8.00" height="10.00" fill="#bdbdbd"/>
<rect x="281.88" y="996.47" width="6.75" height="8.75" fill="#bdbdbd"/>
<rect x="228.25" y="1009.16" width="7.50" height="9.50" fill="#bdbdbd"/>
<rect x="216.50" y="1022.98" width="6.50" height="8.00" fill="#bdbdbd"/>
<rect x="258.38" y="1034.92" width="8.25" height="10.25" fill="#bdbdbd"/>
<line x1="255.00" y1="844.00" x2="288.00" y2="844.00" stroke="#111" stroke-width="0.8"/>
<path d="M268.20 844.00L270.80 841.40L273.40 844.00L270.80 846.60Z" fill="#000"/>
<line x1="249.00" y1="857.07" x2="261.90" y2="857.07" stroke="#111" stroke-width="0.8"/>
<path d="M253.00 857.07L255.60 854.47L258.20 857.07L255.60 859.67Z" fill="#000"/>
<line x1="224.25" y1="870.14" x2="260.75" y2="870.14" stroke="#111" stroke-width="0.8"/>
<path d="M240.15 870.14L242.75 867.54L245.35 870.14L242.75 872.74Z" fill="#000"/>
<line x1="165.50" y1="883.21" x2="312.90" y2="883.21" stroke="#111" stroke-width="0.8"/>
<path d="M236.90 883.21L239.50 880.61L242.10 883.21L239.50 885.81Z" fill="#000"/>
<line x1="240.50" y1="896.28" x2="288.00" y2="896.28" stroke="#111" stroke-width="0.8"/>
<path d="M257.90 896.28L260.50 893.68L263.10 896.28L260.50 898.88Z" fill="#000"/>
<line x1="231.25" y1="909.35" x2="290.50" y2="909.35" stroke="#111" stroke-width="0.8"/>
<path d="M257.90 909.35L260.50 906.75L263.10 909.35L260.50 911.95Z" fill="#000"/>
<line x1="261.25" y1="922.42" x2="271.75" y2="922.42" stroke="#111" stroke-width="0.8"/>
<path d="M263.15 922.42L265.75 919.82L268.35 922.42L265.75 925.02Z" fill="#000"/>
<line x1="175.00" y1="935.49" x2="279.50" y2="935.49" stroke="#111" stroke-width="0.8"/>
<path d="M223.90 935.49L226.50 932.89L229.10 935.49L226.50 938.09Z" fill="#000"/>
<path d="M152.00 948.56L156.30 946.56L156.30 950.56Z" fill="#000"/>
<line x1="152.00" y1="948.56" x2="229.50" y2="948.56" stroke="#111" stroke-width="0.8"/>
<path d="M188.15 948.56L190.75 945.96L193.35 948.56L190.75 951.16Z" fill="#000"/>
<line x1="202.50" y1="961.63" x2="246.75" y2="961.63" stroke="#111" stroke-width="0.8"/>
<path d="M221.90 961.63L224.50 959.03L227.10 961.63L224.50 964.23Z" fill="#000"/>
<line x1="188.75" y1="974.70" x2="268.00" y2="974.70" stroke="#111" stroke-width="0.8"/>
<path d="M224.90 974.70L227.50 972.10L230.10 974.70L227.50 977.30Z" fill="#000"/>
<line x1="248.00" y1="987.77" x2="288.00" y2="987.77" stroke="#111" stroke-width="0.8"/>
<path d="M263.40 987.77L266.00 985.17L268.60 987.77L266.00 990.37Z" fill="#000"/>
<line x1="255.00" y1="1000.84" x2="312.00" y2="1000.84" stroke="#111" stroke-width="0.8"/>
<path d="M282.65 1000.84L285.25 998.24L287.85 1000.84L285.25 1003.44Z" fill="#000"/>
<line x1="230.50" y1="1013.91" x2="233.50" y2="1013.91" stroke="#111" stroke-width="0.8"/>
<path d="M229.40 1013.91L232.00 1011.31L234.60 1013.91L232.00 1016.51Z" fill="#000"/>
<line x1="187.50" y1="1026.98" x2="253.25" y2="1026.98" stroke="#111" stroke-width="0.8"/>
<path d="M217.15 1026.98L219.75 1024.38L222.35 1026.98L219.75 1029.58Z" fill="#000"/>
<line x1="250.00" y1="1040.05" x2="274.50" y2="1040.05" stroke="#111" stroke-width="0.8"/>
<path d="M259.90 1040.05L262.50 1037.45L265.10 1040.05L262.50 1042.65Z" fill="#000"/>
<path d="M237.25 1052.60L248.50 1046.00L260.50 1052.60L248.50 1059.20Z" fill="none" stroke="#2e2ea0" stroke-width="0.9"/>
<line x1="11.00" y1="831.60" x2="480.00" y2="831.60" stroke="#333" stroke-width="0.9"/>
<line x1="11.00" y1="1070.50" x2="480.00" y2="1070.50" stroke="#333" stroke-width="0.9"/>
<line x1="152.30" y1="1070.50" x2="152.30" y2="1073.40" stroke="#222" stroke-width="0.8"/>
<line x1="260.60" y1="1070.50" x2="260.60" y2="1073.40" stroke="#222" stroke-width="0.8"/>
<line x1="368.80" y1="1070.50" x2="368.80" y2="1073.40" stroke="#222" stroke-width="0.8"/>
<text x="152.25" y="1081.30" font-size="6.9" text-anchor="middle">0.16</text>
<text x="260.60" y="1081.30" font-size="6.9" text-anchor="middle">1</text>
<text x="368.80" y="1081.30" font-size="6.9" text-anchor="middle">6.25</text>
<text x="22.00" y="819.00" font-size="6.9">Study</text>
<text x="22.00" y="826.80" font-size="6.9">ID</text>
<text x="12.90" y="826.80" font-size="7.9" font-weight="bold" stroke-width="0.35">c</text>
<text x="378.80" y="826.80" font-size="6.9" textLength="38.25" lengthAdjust="spacingAndGlyphs">OR (95% CI)</text>
<text x="453.00" y="819.00" font-size="6.9">%</text>
<text x="453.00" y="826.80" font-size="6.9" textLength="22.75" lengthAdjust="spacingAndGlyphs">Weight</text>
<text x="21.40" y="846.75" font-size="6.9" textLength="55.79" lengthAdjust="spacingAndGlyphs">Fedele et al. 2000</text>
<text x="21.40" y="859.75" font-size="6.9" textLength="55.79" lengthAdjust="spacingAndGlyphs">Fedele et al. 2000</text>
<text x="21.40" y="872.50" font-size="6.9" textLength="63.15" lengthAdjust="spacingAndGlyphs">Parazzini et al. 2000</text>
<text x="21.40" y="885.25" font-size="6.9" textLength="58.11" lengthAdjust="spacingAndGlyphs">Moreira et al. 2002</text>
<text x="21.40" y="898.25" font-size="6.9" textLength="48.43" lengthAdjust="spacingAndGlyphs">Shiri et al. 2004</text>
<text x="21.40" y="911.50" font-size="6.9" textLength="57.73" lengthAdjust="spacingAndGlyphs">Austoni et al. 2005</text>
<text x="21.40" y="924.50" font-size="6.9" textLength="54.25" lengthAdjust="spacingAndGlyphs">Bacon et al. 2006</text>
<text x="21.40" y="937.50" font-size="6.9" textLength="52.68" lengthAdjust="spacingAndGlyphs">Millett et al. 2006</text>
<text x="21.40" y="950.50" font-size="6.9" textLength="62.38" lengthAdjust="spacingAndGlyphs">Malavige et al. 2008</text>
<text x="21.40" y="963.00" font-size="6.9" textLength="61.61" lengthAdjust="spacingAndGlyphs">Kupelian et al. 2008</text>
<text x="21.40" y="976.00" font-size="6.9" textLength="52.30" lengthAdjust="spacingAndGlyphs">Chew et al. 2009</text>
<text x="21.40" y="989.25" font-size="6.9" textLength="56.57" lengthAdjust="spacingAndGlyphs">Holden et al. 2010</text>
<text x="21.40" y="1003.50" font-size="6.9" textLength="71.15" lengthAdjust="spacingAndGlyphs">Christensen et al. 2011</text>
<text x="21.40" y="1016.50" font-size="6.9" textLength="54.89" lengthAdjust="spacingAndGlyphs">Weber et al. 2013</text>
<text x="21.40" y="1029.50" font-size="6.9" textLength="65.08" lengthAdjust="spacingAndGlyphs">Furukawa et al. 2016</text>
<text x="21.40" y="1042.50" font-size="6.9" textLength="54.25" lengthAdjust="spacingAndGlyphs">Zhang et al. 2017</text>
<text x="378.80" y="846.75" font-size="6.9" textLength="50.23" lengthAdjust="spacingAndGlyphs">0.91 (0.82, 1.01)</text>
<text x="474.40" y="846.75" font-size="6.9" text-anchor="end" textLength="13.56" lengthAdjust="spacingAndGlyphs">8.75</text>
<text x="378.80" y="860.73" font-size="6.9" textLength="50.23" lengthAdjust="spacingAndGlyphs">0.74 (0.55, 1.00)</text>
<text x="474.40" y="860.73" font-size="6.9" text-anchor="end" textLength="13.56" lengthAdjust="spacingAndGlyphs">7.36</text>
<text x="378.80" y="874.71" font-size="6.9" textLength="50.23" lengthAdjust="spacingAndGlyphs">0.70 (0.20, 2.40)</text>
<text x="474.40" y="874.71" font-size="6.9" text-anchor="end" textLength="13.56" lengthAdjust="spacingAndGlyphs">1.93</text>
<text x="378.80" y="888.69" font-size="6.9" textLength="50.23" lengthAdjust="spacingAndGlyphs">1.00 (0.70, 1.60)</text>
<text x="474.40" y="888.69" font-size="6.9" text-anchor="end" textLength="13.56" lengthAdjust="spacingAndGlyphs">6.39</text>
<text x="378.80" y="902.67" font-size="6.9" textLength="50.23" lengthAdjust="spacingAndGlyphs">1.00 (0.70, 1.90)</text>
<text x="474.40" y="902.67" font-size="6.9" text-anchor="end" textLength="13.56" lengthAdjust="spacingAndGlyphs">5.65</text>
<text x="378.80" y="916.65" font-size="6.9" textLength="50.23" lengthAdjust="spacingAndGlyphs">1.10 (1.00, 1.20)</text>
<text x="474.40" y="916.65" font-size="6.9" text-anchor="end" textLength="13.56" lengthAdjust="spacingAndGlyphs">8.79</text>
<text x="378.80" y="930.63" font-size="6.9" textLength="50.23" lengthAdjust="spacingAndGlyphs">0.56 (0.23, 1.37)</text>
<text x="474.40" y="930.63" font-size="6.9" text-anchor="end" textLength="13.56" lengthAdjust="spacingAndGlyphs">3.14</text>
<text x="378.80" y="944.61" font-size="6.9" textLength="50.23" lengthAdjust="spacingAndGlyphs">0.31 (0.16, 0.59)</text>
<text x="474.40" y="944.61" font-size="6.9" text-anchor="end" textLength="13.56" lengthAdjust="spacingAndGlyphs">4.49</text>
<text x="378.80" y="958.59" font-size="6.9" textLength="50.23" lengthAdjust="spacingAndGlyphs">0.55 (0.38, 0.79)</text>
<text x="474.40" y="958.59" font-size="6.9" text-anchor="end" textLength="13.56" lengthAdjust="spacingAndGlyphs">6.78</text>
<text x="378.80" y="972.57" font-size="6.9" textLength="50.23" lengthAdjust="spacingAndGlyphs">0.57 (0.30, 1.12)</text>
<text x="474.40" y="972.57" font-size="6.9" text-anchor="end" textLength="13.56" lengthAdjust="spacingAndGlyphs">4.40</text>
<text x="378.80" y="986.55" font-size="6.9" textLength="50.23" lengthAdjust="spacingAndGlyphs">1.10 (0.80, 1.60)</text>
<text x="474.40" y="986.55" font-size="6.9" text-anchor="end" textLength="13.56" lengthAdjust="spacingAndGlyphs">6.99</text>
<text x="378.80" y="1000.53" font-size="6.9" textLength="50.23" lengthAdjust="spacingAndGlyphs">1.53 (0.91, 2.59)</text>
<text x="474.40" y="1000.53" font-size="6.9" text-anchor="end" textLength="13.56" lengthAdjust="spacingAndGlyphs">5.45</text>
<text x="378.80" y="1014.51" font-size="6.9" textLength="50.23" lengthAdjust="spacingAndGlyphs">0.62 (0.60, 0.64)</text>
<text x="474.40" y="1014.51" font-size="6.9" text-anchor="end" textLength="13.56" lengthAdjust="spacingAndGlyphs">8.94</text>
<text x="378.80" y="1028.49" font-size="6.9" textLength="50.23" lengthAdjust="spacingAndGlyphs">0.50 (0.29, 0.88)</text>
<text x="474.40" y="1028.49" font-size="6.9" text-anchor="end" textLength="13.56" lengthAdjust="spacingAndGlyphs">5.19</text>
<text x="378.80" y="1042.47" font-size="6.9" textLength="50.23" lengthAdjust="spacingAndGlyphs">1.03 (0.83, 1.27)</text>
<text x="474.40" y="1042.47" font-size="6.9" text-anchor="end" textLength="13.56" lengthAdjust="spacingAndGlyphs">0.13</text>
<text x="21.40" y="1054.40" font-size="6.9" textLength="95.75" lengthAdjust="spacingAndGlyphs">Overall (<tspan font-style="italic">I</tspan><tspan font-size="70%" dy="-2">2</tspan><tspan dy="2"> = 93.5%, </tspan><tspan font-style="italic">p</tspan> = 0.000)</text>
<text x="378.80" y="1054.00" font-size="6.9" textLength="50.23" lengthAdjust="spacingAndGlyphs">0.82 (0.67, 1.00)</text>
<text x="474.40" y="1054.00" font-size="6.9" text-anchor="end" textLength="20.68" lengthAdjust="spacingAndGlyphs">100.00</text>
<text x="21.40" y="1064.20" font-size="6.9" textLength="153.75" lengthAdjust="spacingAndGlyphs">NOTE: Weights are from random effects analysis</text>
</svg>
</body></html>
